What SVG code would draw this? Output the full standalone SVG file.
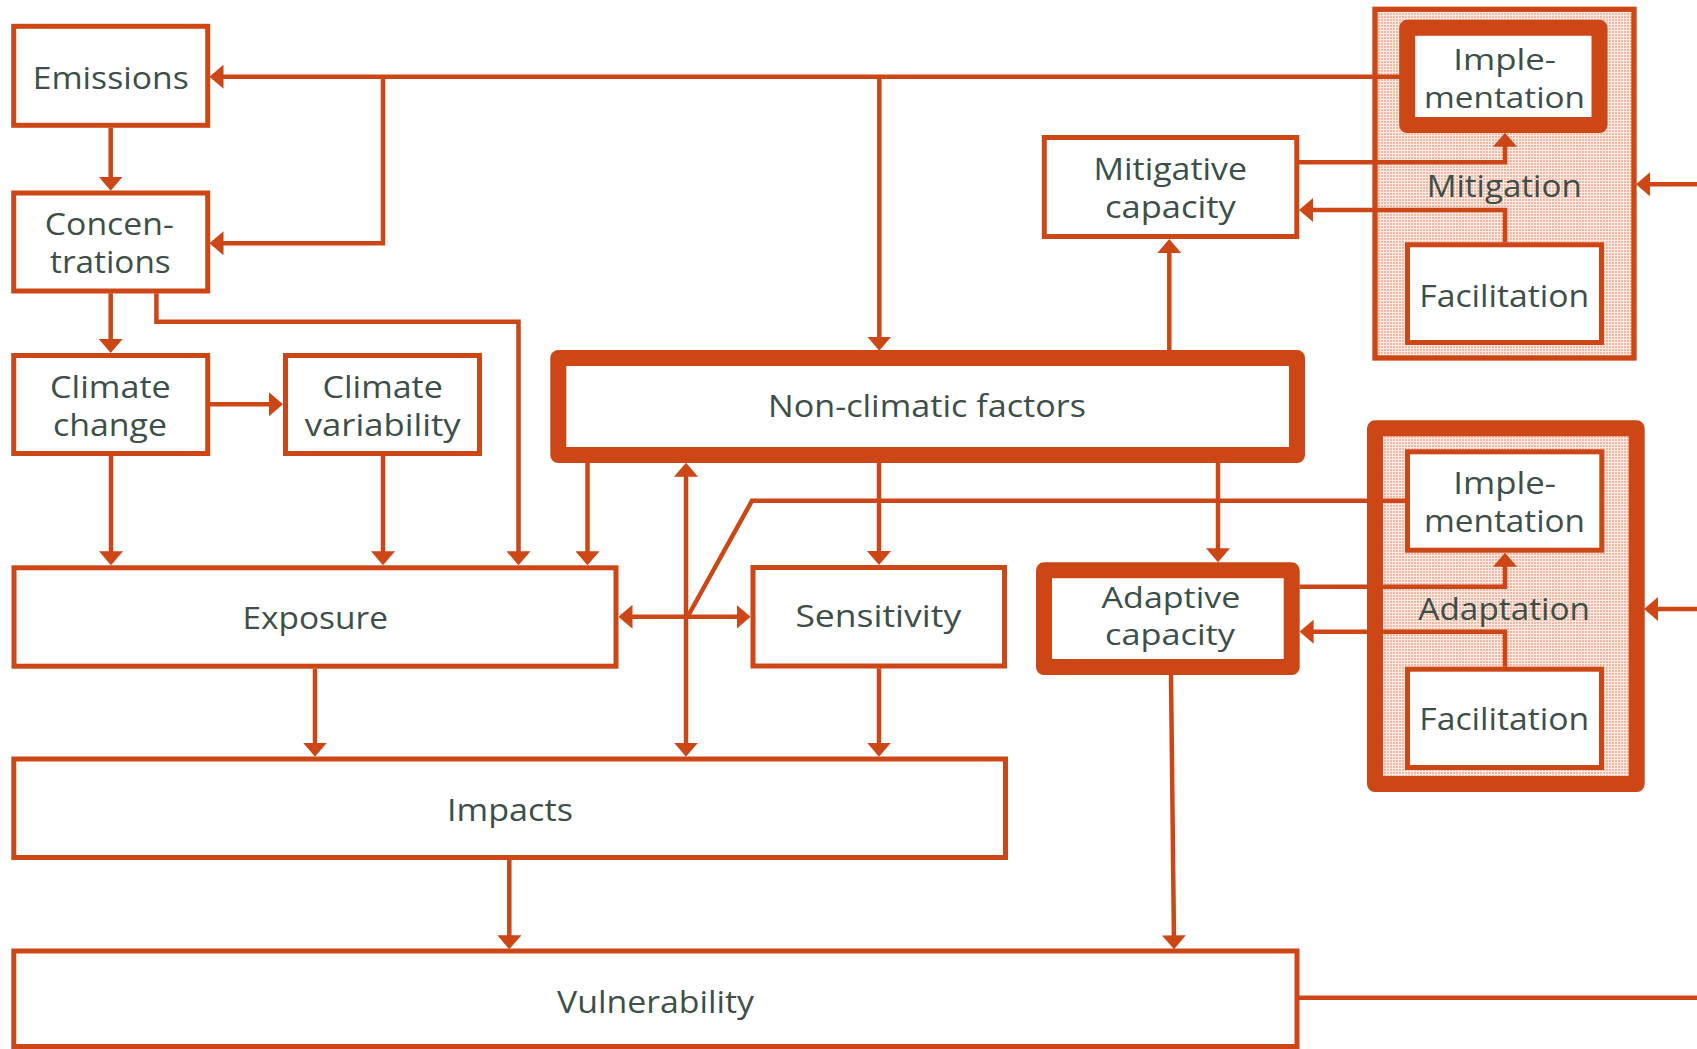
<svg xmlns="http://www.w3.org/2000/svg" width="1697" height="1049" viewBox="0 0 1697 1049">
<style>
.box{fill:#fff;stroke:#cc4616;stroke-width:5}
.thick{fill:#fff;stroke:#cc4616;stroke-width:16;stroke-linejoin:round}
.group{fill:url(#grid);stroke:#cc4616;stroke-width:5.3}
.groupthick{fill:url(#grid);stroke:#cc4616;stroke-width:16;stroke-linejoin:round}
.t{font-family:"Open Sans","Noto Sans","DejaVu Sans",sans-serif;font-size:31px;fill:#3d4f48;text-anchor:middle}
.s{font-size:29.5px}
.c{fill:none;stroke:#cc4616;stroke-width:4.5}
.a{marker-end:url(#ah)}
.b{marker-start:url(#ah);marker-end:url(#ah)}
</style>
<defs>
<pattern id="grid" width="3" height="3" patternUnits="userSpaceOnUse">
<rect width="3" height="3" fill="#efb8a4"/>
<rect width="3" height="1" fill="#fbe9e2"/>
<rect width="1" height="3" fill="#fbe9e2"/>
</pattern>
<marker id="ah" markerUnits="userSpaceOnUse" markerWidth="14" markerHeight="24" refX="8" refY="12" orient="auto-start-reverse">
<path d="M0,0 L14,12 L0,24 Z" fill="#cc4616"/>
</marker>
</defs>
<rect width="1697" height="1049" fill="#fff"/>

<g id="mitigation">
<rect class="group" x="1375" y="9.3" width="259" height="348.7"/>
<text class="t" x="1504.2" y="196.7" textLength="155" lengthAdjust="spacingAndGlyphs">Mitigation</text>
</g>
<g id="adaptation">
<rect class="groupthick" x="1375" y="428.3" width="261.7" height="355.7"/>
<text class="t" x="1504.2" y="620" textLength="171.7" lengthAdjust="spacingAndGlyphs">Adaptation</text>
</g>

<g id="connectors">
<path class="c a" d="M1400,76.7 H215.5"/>
<path class="c a" d="M383,76.7 V243.3 H215.5"/>
<path class="c a" d="M879.3,76.7 V344.7"/>
<path class="c a" d="M110.7,127.7 V184.7"/>
<path class="c a" d="M110.7,293.3 V347"/>
<path class="c a" d="M156.4,293.3 V321.7 H518.5 V559.3"/>
<path class="c a" d="M210,404.3 H277"/>
<path class="c a" d="M111,456 V559.3"/>
<path class="c a" d="M383,456 V559.3"/>
<path class="c a" d="M587.5,463 V559.3"/>
<path class="c a" d="M879,463 V559"/>
<path class="c a" d="M1218,463 V556.3"/>
<path class="c b" d="M686,468.7 V750.7"/>
<path class="c b" d="M624.5,616.8 H744.6"/>
<path class="c" d="M688,616 L752,500.7 H1405"/>
<path class="c a" d="M315,668.7 V750.7"/>
<path class="c a" d="M879,668.3 V750.7"/>
<path class="c a" d="M509.3,860 V943.3"/>
<path class="c a" d="M1171,675 L1174,943.3"/>
<path class="c a" d="M1169.3,350 V245"/>
<path class="c a" d="M1299,162.3 H1505 V138.7"/>
<path class="c a" d="M1505,242.3 V210 H1305"/>
<path class="c a" d="M1299.6,586.7 H1505 V558.7"/>
<path class="c a" d="M1505,666.7 V631.7 H1305.6"/>
<path class="c a" d="M1697,184.3 H1642"/>
<path class="c a" d="M1697,609 H1650"/>
<path class="c" d="M1299,997.7 H1697"/>
</g>

<g id="emissions">
<rect class="box" x="13.7" y="26.3" width="194" height="99"/>
<text class="t" x="110.7" y="89.3" textLength="156" lengthAdjust="spacingAndGlyphs">Emissions</text>
</g>
<g id="concentrations">
<rect class="box" x="13.7" y="193" width="194" height="98"/>
<text class="t" x="109.3" y="235" textLength="129" lengthAdjust="spacingAndGlyphs">Concen-</text>
<text class="t" x="110.4" y="273.3" textLength="120.7" lengthAdjust="spacingAndGlyphs">trations</text>
</g>
<g id="climate-change">
<rect class="box" x="13.7" y="355.5" width="194" height="98"/>
<text class="t" x="110.4" y="397.7" textLength="120.7" lengthAdjust="spacingAndGlyphs">Climate</text>
<text class="t" x="110" y="435.5" textLength="114" lengthAdjust="spacingAndGlyphs">change</text>
</g>
<g id="climate-variability">
<rect class="box" x="285.5" y="355.5" width="194" height="98"/>
<text class="t" x="382.7" y="397.7" textLength="120.4" lengthAdjust="spacingAndGlyphs">Climate</text>
<text class="t" x="382.7" y="435.5" textLength="156" lengthAdjust="spacingAndGlyphs">variability</text>
</g>
<g id="non-climatic">
<rect class="thick" x="558.3" y="358" width="738.7" height="97"/>
<text class="t" x="927" y="417.3" textLength="318" lengthAdjust="spacingAndGlyphs">Non-climatic factors</text>
</g>
<g id="exposure">
<rect class="box" x="14" y="567.8" width="602" height="98.4"/>
<text class="t" x="315.2" y="629.3" textLength="145.6" lengthAdjust="spacingAndGlyphs">Exposure</text>
</g>
<g id="sensitivity">
<rect class="box" x="753" y="567.5" width="251.5" height="98.5"/>
<text class="t" x="878.3" y="626.7" textLength="165.8" lengthAdjust="spacingAndGlyphs">Sensitivity</text>
</g>
<g id="adaptive-capacity">
<rect class="thick" x="1044" y="570.3" width="247.7" height="96.7"/>
<text class="t s" x="1171" y="607.8" textLength="138.8" lengthAdjust="spacingAndGlyphs">Adaptive</text>
<text class="t s" x="1170" y="645.3" textLength="130" lengthAdjust="spacingAndGlyphs">capacity</text>
</g>
<g id="mitigative-capacity">
<rect class="box" x="1044.3" y="137.5" width="252.5" height="99"/>
<text class="t" x="1170.3" y="180" textLength="153.6" lengthAdjust="spacingAndGlyphs">Mitigative</text>
<text class="t" x="1170.4" y="218.3" textLength="130.7" lengthAdjust="spacingAndGlyphs">capacity</text>
</g>
<g id="impacts">
<rect class="box" x="13.8" y="759" width="991.7" height="98.5"/>
<text class="t" x="510" y="821" textLength="126" lengthAdjust="spacingAndGlyphs">Impacts</text>
</g>
<g id="vulnerability">
<rect class="box" x="13.8" y="951" width="1283.2" height="95.5"/>
<text class="t" x="655.5" y="1013.3" textLength="197" lengthAdjust="spacingAndGlyphs">Vulnerability</text>
</g>
<g id="mit-implementation">
<rect class="thick" x="1407.2" y="27.8" width="192.3" height="97.2"/>
<text class="t s" x="1504.7" y="70" textLength="102.7" lengthAdjust="spacingAndGlyphs">Imple-</text>
<text class="t s" x="1504.5" y="107.6" textLength="161" lengthAdjust="spacingAndGlyphs">mentation</text>
</g>
<g id="mit-facilitation">
<rect class="box" x="1407.5" y="244.8" width="194" height="97.7"/>
<text class="t" x="1504.3" y="306.7" textLength="170" lengthAdjust="spacingAndGlyphs">Facilitation</text>
</g>
<g id="adapt-implementation">
<rect class="box" x="1407.5" y="451.8" width="194.3" height="98.4"/>
<text class="t" x="1504.7" y="494" textLength="102.7" lengthAdjust="spacingAndGlyphs">Imple-</text>
<text class="t" x="1504.5" y="532.3" textLength="161" lengthAdjust="spacingAndGlyphs">mentation</text>
</g>
<g id="adapt-facilitation">
<rect class="box" x="1407.5" y="669.2" width="194" height="98.3"/>
<text class="t" x="1504.3" y="730" textLength="170" lengthAdjust="spacingAndGlyphs">Facilitation</text>
</g>
</svg>
